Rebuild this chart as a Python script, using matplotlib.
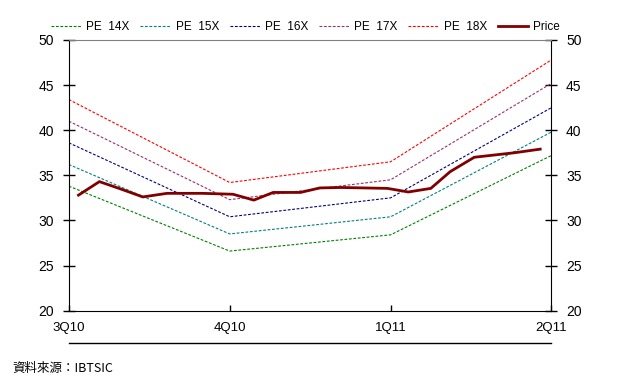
import matplotlib.pyplot as plt
from matplotlib.lines import Line2D

plt.rcParams['font.family'] = ['Liberation Sans', 'DejaVu Sans']

# quarters on the x axis
quarters = ["3Q10", "4Q10", "1Q11", "2Q11"]
q_pos = [0, 1, 2, 3]

# PE band lines (price at each multiple)
pe14 = [33.8, 26.6, 28.4, 37.2]
pe15 = [36.2, 28.5, 30.4, 39.8]
pe16 = [38.6, 30.4, 32.5, 42.5]
pe17 = [41.0, 32.3, 34.5, 45.2]
pe18 = [43.4, 34.2, 36.5, 47.8]

# share price (position in quarters, price)
price_x = [0.06, 0.19, 0.32, 0.46, 0.61, 0.83, 1.02, 1.15, 1.27, 1.44,
           1.56, 1.69, 1.98, 2.11, 2.25, 2.37, 2.52, 2.77, 2.93]
price_y = [32.8, 34.3, 33.5, 32.6, 33.0, 33.0, 32.9, 32.25, 33.1, 33.1,
           33.6, 33.65, 33.55, 33.15, 33.55, 35.4, 37.0, 37.5, 37.9]

fig = plt.figure(figsize=(6.2, 3.83), dpi=100)
ax = fig.add_axes([0.111, 0.189, 0.7785, 0.7066])

band = [(pe14, "#008000", "PE  14X"),
        (pe15, "#008080", "PE  15X"),
        (pe16, "#000080", "PE  16X"),
        (pe17, "#993366", "PE  17X"),
        (pe18, "#FF0000", "PE  18X")]
for vals, col, lab in band:
    ax.plot(q_pos, vals, color=col, lw=0.8, ls=(0, (2.5, 1.5)), label=lab)
ax.plot(price_x, price_y, color="#800000", lw=2.0, label="Price")

ax.set_xlim(0, 3)
ax.set_ylim(20, 50)
ax.set_yticks([20, 25, 30, 35, 40, 45, 50])
ax.set_xticks(q_pos)
ax.set_xticklabels(quarters)

ax.tick_params(axis='y', direction='inout', length=9, width=1, labelsize=10,
               right=True, labelright=True, pad=6)
ax.tick_params(axis='x', direction='in', length=4, width=1, labelsize=9.5, pad=8)

ax.spines['top'].set_color('#808080')
for s in ['left', 'right', 'bottom']:
    ax.spines[s].set_color('black')

# line under the category labels
ax.add_line(Line2D([0, 1], [-0.118, -0.118], transform=ax.transAxes,
                   color='black', lw=1, clip_on=False))

leg = ax.legend(loc='lower center', bbox_to_anchor=(0.49, 1.0), ncol=6, frameon=False,
                fontsize=8.5, handlelength=2.6, handletextpad=0.4, columnspacing=0.9,
                borderaxespad=0.2)

fig.text(0.02, 0.03, "資料來源：IBTSIC", fontsize=9,
         family=['Noto Sans CJK TC', 'DejaVu Sans'])

fig.savefig("out.png", dpi=100)
